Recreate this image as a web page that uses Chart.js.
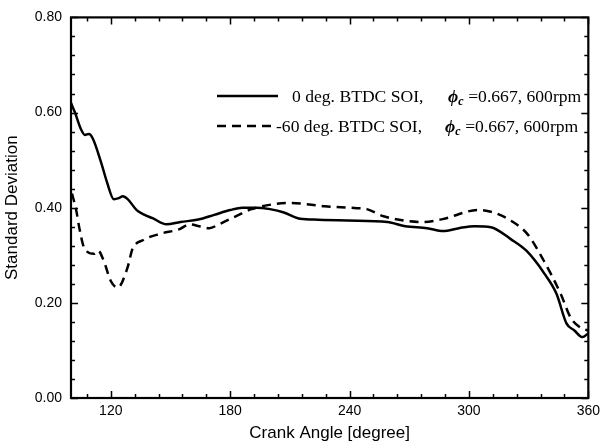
<!DOCTYPE html>
<html>
<head>
<meta charset="utf-8">
<script src="https://cdn.jsdelivr.net/npm/chart.js@4/dist/chart.umd.min.js"></script>
<style>
  html, body { margin: 0; padding: 0; background: #fff; }
  #wrap { width: 605px; height: 446px; position: relative; }
</style>
</head>
<body>
<div id="wrap"><canvas id="chart"></canvas></div>
<script>
// Data
const angleSolid = [100, 102, 105, 107, 109, 111, 115, 118, 121.5, 124, 126, 128.5, 133, 137, 141, 148, 155, 164, 172, 180, 186, 193, 200, 207, 214, 222, 239, 259, 268, 279, 287, 295, 303, 311, 321, 329, 338, 344, 349, 353, 357, 360];
const sdSolid = [0.62, 0.60, 0.565, 0.553, 0.555, 0.545, 0.497, 0.455, 0.418, 0.42, 0.424, 0.418, 0.395, 0.385, 0.378, 0.365, 0.37, 0.375, 0.385, 0.395, 0.40, 0.40, 0.397, 0.39, 0.378, 0.375, 0.373, 0.37, 0.361, 0.357, 0.351, 0.357, 0.361, 0.359, 0.334, 0.309, 0.261, 0.219, 0.157, 0.142, 0.128, 0.136];

const angleDashed = [100.5, 102.7, 104.2, 106.6, 111.6, 113.6, 116.5, 120, 123.5, 128.4, 130.9, 136.3, 144.7, 154.6, 159.6, 164.5, 169.5, 174.4, 182.8, 190.8, 210.6, 227.4, 243.7, 248.7, 257.1, 276.9, 286.8, 304.6, 313, 321.4, 329.3, 337.7, 346.1, 351.1, 356, 360];
const sdDashed = [0.43, 0.393, 0.357, 0.316, 0.303, 0.31, 0.288, 0.246, 0.232, 0.274, 0.313, 0.332, 0.345, 0.355, 0.365, 0.361, 0.357, 0.365, 0.382, 0.397, 0.41, 0.403, 0.399, 0.397, 0.382, 0.37, 0.376, 0.395, 0.389, 0.372, 0.345, 0.288, 0.219, 0.169, 0.148, 0.142];

const xTickValues = [120, 180, 240, 300, 360];
const xMinorValues = [108, 132, 144, 156, 168, 192, 204, 216, 228, 252, 264, 276, 288, 312, 324, 336, 348];
const yTickValues = [0, 0.2, 0.4, 0.6, 0.8];
const yMinorValues = [0.04, 0.08, 0.12, 0.16, 0.24, 0.28, 0.32, 0.36, 0.44, 0.48, 0.52, 0.56, 0.64, 0.68, 0.72, 0.76];

const legendLabels = ['0 deg. BTDC SOI,', '-60 deg. BTDC SOI,'];
const legendTail = '=0.667, 600rpm';

const toPoints = (xs, ys) => xs.map((x, i) => ({ x: x, y: ys[i] }));

// frame, inward ticks and the legend drawn on top of the chart area
const framePlugin = {
    id: 'frame',
    afterDraw(chart) {
        const ctx = chart.ctx;
        const a = chart.chartArea;
        const xs = chart.scales.x, ys = chart.scales.y;
        ctx.save();
        ctx.strokeStyle = '#000';

        // ticks
        ctx.lineWidth = 1.5;
        ctx.beginPath();
        const tickX = (vals, len) => vals.forEach(v => {
            const px = Math.round(xs.getPixelForValue(v)) + 0.5;
            ctx.moveTo(px, a.bottom); ctx.lineTo(px, a.bottom - len);
            ctx.moveTo(px, a.top); ctx.lineTo(px, a.top + len);
        });
        const tickY = (vals, len) => vals.forEach(v => {
            const py = Math.round(ys.getPixelForValue(v)) + 0.5;
            ctx.moveTo(a.left, py); ctx.lineTo(a.left + len, py);
            ctx.moveTo(a.right, py); ctx.lineTo(a.right - len, py);
        });
        tickX(xTickValues, 7);
        tickX(xMinorValues, 4);
        tickY(yTickValues, 7);
        tickY(yMinorValues, 4);
        ctx.stroke();

        // frame
        ctx.lineWidth = 2.2;
        ctx.strokeRect(a.left, a.top, a.right - a.left, a.bottom - a.top);

        // legend
        const rows = [
            { y: 96, lineEnd: 278, dash: [], text: 292, phi: 448 },
            { y: 126, lineEnd: 272, dash: [9, 6], text: 276, phi: 445 }
        ];
        const textFont = '17.6px "Liberation Serif", "Times New Roman", serif';
        rows.forEach((r, i) => {
            ctx.lineWidth = 2.5;
            ctx.setLineDash(r.dash);
            ctx.beginPath();
            ctx.moveTo(217, r.y);
            ctx.lineTo(r.lineEnd, r.y);
            ctx.stroke();
            ctx.setLineDash([]);

            ctx.fillStyle = '#000';
            ctx.textBaseline = 'middle';
            ctx.textAlign = 'left';
            ctx.font = textFont;
            ctx.fillText(legendLabels[i], r.text, r.y + 1);
            ctx.font = 'italic bold 17.6px "Liberation Serif", "DejaVu Serif", serif';
            ctx.fillText('\u03D5', r.phi, r.y + 1);
            const pw = ctx.measureText('\u03D5').width;
            ctx.font = 'italic bold 12px "Liberation Serif", serif';
            ctx.fillText('c', r.phi + pw, r.y + 6);
            ctx.font = textFont;
            ctx.fillText(legendTail, r.phi + pw + 10, r.y + 1);
        });
        ctx.restore();
    }
};

const ctx = document.getElementById('chart').getContext('2d');
new Chart(ctx, {
    type: 'line',
    data: {
        datasets: [
            {
                label: legendLabels[0],
                data: toPoints(angleSolid, sdSolid),
                borderColor: '#000',
                borderWidth: 2.5,
                pointRadius: 0,
                cubicInterpolationMode: 'monotone',
                fill: false
            },
            {
                label: legendLabels[1],
                data: toPoints(angleDashed, sdDashed),
                borderColor: '#000',
                borderWidth: 2.5,
                borderDash: [9, 6],
                pointRadius: 0,
                cubicInterpolationMode: 'monotone',
                fill: false
            }
        ]
    },
    options: {
        responsive: true,
        maintainAspectRatio: false,
        animation: false,
        layout: { padding: { top: 16, right: 10, bottom: 0, left: 0 } },
        plugins: {
            legend: { display: false },
            tooltip: { enabled: false }
        },
        scales: {
            x: {
                type: 'linear',
                min: 100,
                max: 360,
                afterBuildTicks: s => { s.ticks = xTickValues.map(v => ({ value: v })); },
                afterFit: s => { s.height = 48; },
                grid: { display: false, drawTicks: false },
                border: { display: false },
                ticks: {
                    color: '#000',
                    padding: 5,
                    maxRotation: 0,
                    font: { family: '"Liberation Sans", Arial, sans-serif', size: 14 },
                    callback: v => String(v)
                },
                title: {
                    display: true,
                    text: 'Crank Angle [degree]',
                    color: '#000',
                    padding: { top: 0, bottom: 2 },
                    font: { family: '"Liberation Sans", Arial, sans-serif', size: 17 }
                }
            },
            y: {
                min: 0,
                max: 0.8,
                afterBuildTicks: s => { s.ticks = yTickValues.map(v => ({ value: v })); },
                afterFit: s => { s.width = 71; },
                grid: { display: false, drawTicks: false },
                border: { display: false },
                ticks: {
                    color: '#000',
                    padding: 9,
                    font: { family: '"Liberation Sans", Arial, sans-serif', size: 14 },
                    callback: v => v.toFixed(2)
                },
                title: {
                    display: true,
                    text: 'Standard Deviation',
                    color: '#000',
                    padding: { top: 2, bottom: 0 },
                    font: { family: '"Liberation Sans", Arial, sans-serif', size: 17 }
                }
            }
        }
    },
    plugins: [framePlugin]
});
</script>
</body>
</html>
